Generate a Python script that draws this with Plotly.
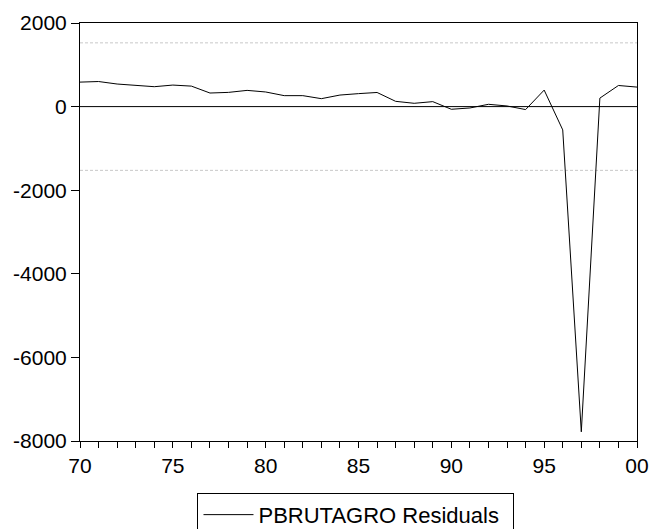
import plotly.graph_objects as go

years = list(range(1970, 2001))
residuals = [586, 600, 540, 507, 476, 515, 490, 325, 340, 388, 350, 262, 262, 190, 276,
             310, 338, 126, 79, 119, -64, -33, 55, 15, -71, 395, -557, -7780, 203, 505, 467]
sd_band = 1525
x_tickvals = [1970, 1975, 1980, 1985, 1990, 1995, 2000]
x_ticktext = ["70", "75", "80", "85", "90", "95", "00"]
y_tickvals = [2000, 0, -2000, -4000, -6000, -8000]
y_ticktext = ["2000", "0", "-2000", "-4000", "-6000", "-8000"]
series_name = "PBRUTAGRO Residuals"

fig = go.Figure()
for lvl in (sd_band, -sd_band):
    fig.add_trace(go.Scatter(x=[years[0], years[-1]], y=[lvl, lvl], mode="lines",
                             line=dict(color="#c8c8c8", width=1, dash="3px,2px"),
                             showlegend=False, hoverinfo="skip"))
fig.add_trace(go.Scatter(x=[years[0], years[-1]], y=[0, 0], mode="lines",
                         line=dict(color="black", width=1),
                         showlegend=False, hoverinfo="skip"))
fig.add_trace(go.Scatter(x=years, y=residuals, mode="lines", name=series_name,
                         line=dict(color="black", width=1)))

font = dict(family="Liberation Sans, Arial, sans-serif", size=21, color="black")
fig.update_layout(
    width=651, height=529,
    margin=dict(l=80, r=14, t=23, b=88, autoexpand=False),
    paper_bgcolor="white", plot_bgcolor="white",
    font=font,
    showlegend=True,
    legend=dict(orientation="h", x=0.4955, xanchor="center", y=-0.124, yanchor="top",
                bordercolor="black", borderwidth=1, font=dict(size=22),
                itemwidth=50, entrywidth=250),
    xaxis=dict(range=[1970, 2000], tickvals=x_tickvals, ticktext=x_ticktext,
               ticks="outside", ticklen=6, tickcolor="black", tickwidth=1,
               minor=dict(dtick=1, ticks="outside", ticklen=6, tickcolor="black", tickwidth=1),
               showgrid=False, zeroline=False, automargin=False,
               showline=True, linecolor="black", linewidth=1, mirror=True),
    yaxis=dict(range=[-8000, 2000], tickvals=y_tickvals, ticktext=y_ticktext,
               ticks="outside", ticklen=8, tickcolor="black", tickwidth=1,
               showgrid=False, zeroline=False, automargin=False,
               showline=True, linecolor="black", linewidth=1, mirror=True),
)
fig.write_html("out.html")
